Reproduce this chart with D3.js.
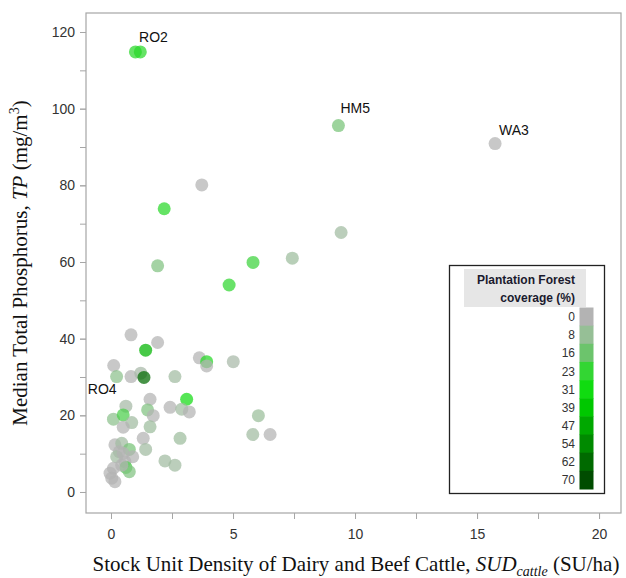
<!DOCTYPE html>
<html>
<head>
<meta charset="utf-8">
<script src="https://cdn.jsdelivr.net/npm/d3@7"></script>
<style>
  body { margin: 0; background: #fff; }
  .tick text { font-family: "Liberation Sans", Arial, sans-serif; font-size: 14px; fill: #333; }
  .axistitle { font-family: "Liberation Serif", "Times New Roman", serif; font-size: 21px; fill: #111; }
  .site { font-family: "Liberation Sans", Arial, sans-serif; font-size: 14px; fill: #111; }
</style>
</head>
<body>
<div id="chart"></div>
<script>
var svgWidth = 626;
var svgHeight = 578;

// stock unit density of dairy and beef cattle (SU/ha)
var sudCattle = [1.0, 1.2, 9.32, 15.74, 3.72, 2.18, 9.43, 7.43, 5.82, 1.91, 4.84,
  0.82, 1.91, 1.42, 0.11, 0.23, 0.82, 1.22, 1.35, 2.62, 3.62, 3.92, 3.92, 5.01,
  1.6, 3.1, 0.61, 1.5, 1.73, 2.42, 2.9, 3.21, 0.1, 0.5, 0.85, 0.5, 1.6, 2.83,
  1.32, 1.42, 2.21, 2.62, 6.04, 5.81, 6.52,
  0.16, 0.44, 0.75, 0.34, 0.89, 0.23, 0.57, 0.61, 0.75, 0.1, -0.04, 0.03, 0.16, 0.44, 0.5];
// median total phosphorus (mg/m3)
var medianTP = [114.8, 114.8, 95.6, 90.9, 80.1, 73.9, 67.7, 61.0, 59.9, 59.0, 54.0,
  41.0, 39.0, 37.0, 33.0, 30.1, 30.1, 31.0, 29.9, 30.1, 35.0, 34.0, 32.9, 34.0,
  24.2, 24.2, 22.4, 21.4, 19.9, 22.1, 21.6, 20.9, 19.0, 20.1, 18.1, 16.9, 17.0, 14.0,
  14.0, 11.1, 8.1, 7.0, 19.9, 15.0, 15.0,
  12.3, 12.7, 11.1, 10.5, 9.2, 9.2, 7.9, 6.4, 5.3, 6.2, 4.9, 3.6, 2.7, 7.0, 10.1];
// plantation forest coverage (%)
var forestCover = [25, 25, 14, 0, 0, 25, 5, 6, 22, 12, 24,
  0, 0, 44, 0, 10, 0, 3, 62, 5, 0, 26, 0, 3,
  0, 30, 4, 12, 0, 0, 5, 0, 10, 20, 5, 0, 6, 6,
  0, 5, 5, 5, 7, 5, 0,
  0, 5, 14, 0, 0, 5, 0, 20, 12, 0, 0, 0, 0, 0, 0];

var siteNames = ["RO2", "HM5", "WA3", "RO4"];
var siteSud = [1.15, 9.4, 15.9, -0.95];
var siteTP = [117.5, 99, 93.2, 25.5];

var xTicks = [0, 5, 10, 15, 20];
var yTicks = [0, 20, 40, 60, 80, 100, 120];

var legendTicks = [0, 8, 16, 23, 31, 39, 47, 54, 62, 70];
var legendColors = ["#b3b3b3", "#96bf96", "#6cc46c", "#33d633", "#10dc10",
  "#00c800", "#00a800", "#008a00", "#006a00", "#004c00"];

var frame = { left: 86, right: 621, top: 13, bottom: 513 };

var svg = d3.select("#chart")
  .append("svg")
  .attr("width", svgWidth)
  .attr("height", svgHeight);

var xScale = d3.scaleLinear()
  .domain([-1.025, 20.9])
  .range([frame.left, frame.right]);

var yScale = d3.scaleLinear()
  .domain([-5.48, 124.96])
  .range([frame.bottom, frame.top]);

var color = d3.scaleLinear()
  .domain(legendTicks)
  .range(legendColors);

// plot frame
svg.append("rect")
  .attr("x", frame.left)
  .attr("y", frame.top)
  .attr("width", frame.right - frame.left)
  .attr("height", frame.bottom - frame.top)
  .attr("fill", "none")
  .attr("stroke", "#a6a6a6")
  .attr("stroke-width", 1.2);

// minor ticks
var xMinor = d3.axisBottom(xScale).tickValues(d3.range(0, 21, 2.5)).tickSize(6).tickFormat("");
var yMinor = d3.axisLeft(yScale).tickValues(d3.range(0, 121, 10)).tickSize(6).tickFormat("");

svg.append("g")
  .attr("transform", `translate(0, ${frame.bottom})`)
  .call(xMinor);
svg.append("g")
  .attr("transform", `translate(${frame.left}, 0)`)
  .call(yMinor);

var xAxis = d3.axisBottom(xScale).tickValues(xTicks).tickSize(6).tickPadding(10);
var yAxis = d3.axisLeft(yScale).tickValues(yTicks).tickSize(6).tickPadding(5);

svg.append("g")
  .attr("transform", `translate(0, ${frame.bottom})`)
  .call(xAxis);
svg.append("g")
  .attr("transform", `translate(${frame.left}, 0)`)
  .call(yAxis);

svg.selectAll(".domain").remove();
svg.selectAll(".tick line").attr("stroke", "#a6a6a6");

// points
var points = sudCattle.map(function(d, i) {
  return { sud: d, tp: medianTP[i], cover: forestCover[i] };
});

svg.append("g")
  .selectAll("circle")
  .data(points)
  .enter()
  .append("circle")
  .attr("cx", d => xScale(d.sud))
  .attr("cy", d => yScale(d.tp))
  .attr("r", 6.5)
  .attr("fill", d => color(d.cover))
  .attr("opacity", 0.72);

// site labels
svg.append("g")
  .selectAll("text")
  .data(siteNames)
  .enter()
  .append("text")
  .classed("site", true)
  .attr("x", (d, i) => xScale(siteSud[i]))
  .attr("y", (d, i) => yScale(siteTP[i]))
  .text(d => d);

// legend
var lg = svg.append("g");
lg.append("rect")
  .attr("x", 449.5).attr("y", 265.5)
  .attr("width", 155).attr("height", 228)
  .attr("fill", "#fff")
  .attr("stroke", "#222")
  .attr("stroke-width", 1.3);
lg.append("rect")
  .attr("x", 464).attr("y", 269)
  .attr("width", 122).attr("height", 38)
  .attr("fill", "#e6e6e6");
lg.append("text")
  .attr("x", 575).attr("y", 284)
  .attr("text-anchor", "end")
  .style("font-family", "Liberation Sans, Arial, sans-serif")
  .style("font-size", "12px").style("font-weight", "bold")
  .attr("fill", "#1a1a2e")
  .text("Plantation Forest");
lg.append("text")
  .attr("x", 575).attr("y", 302)
  .attr("text-anchor", "end")
  .style("font-family", "Liberation Sans, Arial, sans-serif")
  .style("font-size", "12px").style("font-weight", "bold")
  .attr("fill", "#1a1a2e")
  .text("coverage (%)");

var legendY = d3.scaleBand()
  .domain(legendTicks)
  .range([307.5, 489]);

lg.selectAll(".sw")
  .data(legendTicks)
  .enter()
  .append("rect")
  .attr("x", 579.5)
  .attr("y", d => legendY(d))
  .attr("width", 14)
  .attr("height", legendY.bandwidth() + 0.5)
  .attr("fill", (d, i) => legendColors[i]);

lg.selectAll(".lt")
  .data(legendTicks)
  .enter()
  .append("text")
  .attr("x", 575)
  .attr("y", d => legendY(d) + legendY.bandwidth() / 2 + 4.5)
  .attr("text-anchor", "end")
  .style("font-family", "Liberation Sans, Arial, sans-serif")
  .style("font-size", "12px")
  .attr("fill", "#333")
  .text(d => d);

// axis titles
var yt = svg.append("text")
  .classed("axistitle", true)
  .attr("text-anchor", "middle")
  .attr("transform", "translate(27, 263) rotate(-90)");
yt.append("tspan").text("Median Total Phosphorus, ");
yt.append("tspan").style("font-style", "italic").text("TP");
yt.append("tspan").text(" (mg/m");
yt.append("tspan").attr("dy", -8).style("font-size", "14px").text("3");
yt.append("tspan").attr("dy", 8).text(")");

var xt = svg.append("text")
  .classed("axistitle", true)
  .attr("text-anchor", "middle")
  .attr("x", 356)
  .attr("y", 571);
xt.append("tspan").text("Stock Unit Density of Dairy and Beef Cattle, ");
xt.append("tspan").style("font-style", "italic").text("SUD");
xt.append("tspan").attr("dy", 5).style("font-style", "italic").style("font-size", "14px").text("cattle");
xt.append("tspan").attr("dy", -5).text(" (SU/ha)");
</script>
</body>
</html>
